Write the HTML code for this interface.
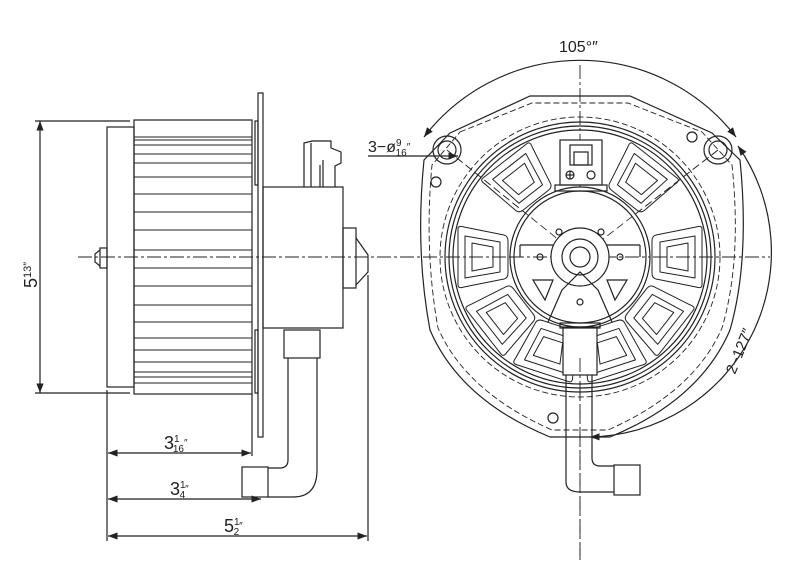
<!DOCTYPE html>
<html><head><meta charset="utf-8"><style>
html,body{margin:0;padding:0;background:#fff;}
svg{display:block}
text{font-family:"Liberation Sans",sans-serif;fill:#222}
</style></head><body>
<svg width="800" height="581" viewBox="0 0 800 581" xmlns="http://www.w3.org/2000/svg" fill="none" stroke="#222" stroke-width="1.2">
<defs>
<marker id="a" markerWidth="8" markerHeight="6" refX="8" refY="3" orient="auto-start-reverse"><path d="M0,0 L8,3 L0,6z" fill="#222" stroke="none"/></marker>
<g id="pk"><path d="M-28,-24 L28,-24 Q32,-24 30,-18 L22,22 Q21,26 16,26 L-16,26 Q-21,26 -22,22 L-30,-18 Q-32,-24 -28,-24Z"/><path d="M-21,-17 L21,-17 L15,18 L-15,18Z" stroke-linejoin="round"/><path d="M-14,-10 L14,-10 L10,11 L-10,11Z" stroke-linejoin="round"/></g>
</defs>
<!-- LEFT VIEW -->
<line x1="35" y1="121" x2="130" y2="121"/><line x1="35" y1="393" x2="130" y2="393"/>
<line x1="40" y1="121" x2="40" y2="393" marker-start="url(#a)" marker-end="url(#a)"/>
<text x="0" y="0" font-size="18" transform="translate(37,288) rotate(-90)" stroke="none">5<tspan font-size="11" dy="-6">13</tspan><tspan font-size="11">″</tspan></text>
<line x1="78" y1="257" x2="400" y2="257" stroke-dasharray="14,3,3,3" stroke-width="0.9"/>
<rect x="107" y="127" width="27" height="260"/>
<rect x="134" y="120" width="118" height="274"/>
<g stroke-width="1">
<line x1="134" y1="137" x2="252" y2="137"/><line x1="134" y1="140" x2="252" y2="140"/><line x1="134" y1="145" x2="252" y2="145"/>
<line x1="134" y1="154" x2="252" y2="154"/><line x1="134" y1="163" x2="252" y2="163"/><line x1="134" y1="177" x2="252" y2="177"/>
<line x1="134" y1="194" x2="252" y2="194"/><line x1="134" y1="212" x2="252" y2="212"/><line x1="134" y1="230" x2="252" y2="230"/>
<line x1="134" y1="250" x2="252" y2="250"/><line x1="134" y1="268" x2="252" y2="268"/><line x1="134" y1="286" x2="252" y2="286"/>
<line x1="134" y1="305" x2="252" y2="305"/><line x1="134" y1="322" x2="252" y2="322"/><line x1="134" y1="338" x2="252" y2="338"/>
<line x1="134" y1="350" x2="252" y2="350"/><line x1="134" y1="362" x2="252" y2="362"/><line x1="134" y1="372" x2="252" y2="372"/>
<line x1="134" y1="377" x2="252" y2="377"/><line x1="134" y1="383" x2="252" y2="383"/>
</g>
<rect x="100" y="248" width="7" height="20"/><path d="M100,250 L95,254 L95,262 L100,266"/>
<rect x="258" y="93" width="5" height="344"/>
<rect x="255" y="121" width="3" height="64"/><rect x="255" y="330" width="3" height="63"/>
<rect x="263" y="187" width="80" height="141"/>
<path d="M304,187 L304,143 L312,141 L331,141 L331,148 L341,152 L341,163 L335,166 L335,187"/>
<line x1="311" y1="143" x2="311" y2="187"/><line x1="320" y1="165" x2="320" y2="187"/><line x1="323" y1="160" x2="323" y2="187"/>
<rect x="343" y="228" width="13" height="60"/><path d="M356,238 L361,245 L368,255 L368,272 L356,285"/>
<rect x="284" y="330" width="36" height="28"/>
<path d="M288,358 L288,460 Q288,468 280,468 L268,468"/>
<path d="M317,358 L317,470 Q317,497 293,497 L268,497"/>
<rect x="242" y="467" width="26" height="30"/>
<line x1="107" y1="390" x2="107" y2="541"/><line x1="368" y1="275" x2="368" y2="541"/>
<line x1="252" y1="394" x2="252" y2="456"/>
<line x1="108" y1="453" x2="251" y2="453" marker-start="url(#a)" marker-end="url(#a)"/>
<line x1="108" y1="499" x2="261" y2="499" marker-start="url(#a)" marker-end="url(#a)"/>
<line x1="108" y1="536" x2="367" y2="536" marker-start="url(#a)" marker-end="url(#a)"/>
<text x="164" y="449" font-size="18" stroke="none">3<tspan font-size="10" dy="-7">1</tspan><tspan font-size="10" dx="-6" dy="10">16</tspan><tspan font-size="10" dy="-6">″</tspan></text>
<text x="170" y="495" font-size="18" stroke="none">3<tspan font-size="10" dy="-7">1</tspan><tspan font-size="10" dx="-6" dy="10">4</tspan><tspan font-size="10" dy="-6">″</tspan></text>
<text x="224" y="532" font-size="18" stroke="none">5<tspan font-size="10" dy="-7">1</tspan><tspan font-size="10" dx="-6" dy="10">2</tspan><tspan font-size="10" dy="-6">″</tspan></text>
<!-- RIGHT VIEW -->
<text x="559" y="52" font-size="16" stroke="none">105°″</text>
<path d="M424,137 A197,197 0 0 1 736,137" marker-start="url(#a)" marker-end="url(#a)"/>
<path d="M738,146 A185,185 0 0 1 590,437" marker-start="url(#a)" marker-end="url(#a)"/>
<text font-size="15" stroke="none" transform="translate(735,375) rotate(-68)">2−127″</text>
<text x="368" y="152" font-size="16" stroke="none">3−ø<tspan font-size="10" dy="-6">9</tspan><tspan font-size="10" dx="-6" dy="10">16</tspan><tspan font-size="10" dy="-6">″</tspan></text>
<line x1="368" y1="156" x2="458" y2="156" marker-end="url(#a)"/>
<line x1="580" y1="65" x2="580" y2="560" stroke-dasharray="14,3,3,3" stroke-width="0.9"/>
<line x1="400" y1="257" x2="770" y2="257" stroke-dasharray="14,3,3,3" stroke-width="0.9"/>
<line x1="447" y1="150" x2="580" y2="257" stroke-dasharray="8,4" stroke-width="0.8"/>
<line x1="718" y1="150" x2="580" y2="257" stroke-dasharray="8,4" stroke-width="0.8"/>
<path d="M450,133 L530,96 L630,96 L712,133 L740,160 Q750,260 730,330 Q700,400 610,437 L550,437 Q460,400 430,330 Q415,250 424,160 Z"/>
<path d="M460,132 L532,103 L628,103 L702,132 L732,165 Q742,260 722,328 Q694,392 608,430 L552,430 Q466,392 438,328 Q424,250 432,165 Z" stroke-dasharray="6,3" stroke-width="0.9"/>
<circle cx="447" cy="150" r="14"/><circle cx="447" cy="150" r="9"/>
<circle cx="718" cy="150" r="14"/><circle cx="718" cy="150" r="9"/>
<circle cx="436" cy="182" r="5"/><circle cx="692" cy="137" r="5"/><circle cx="553" cy="418" r="5"/>
<circle cx="580" cy="257" r="140" stroke-dasharray="6,3" stroke-width="0.9"/>
<circle cx="580" cy="257" r="135"/>
<circle cx="580" cy="257" r="131"/>
<circle cx="580" cy="257" r="127"/>
<g stroke-width="1">
<use href="#pk" transform="translate(580,257) rotate(0) translate(98,0) rotate(90)"/>
<use href="#pk" transform="translate(580,257) rotate(38) translate(98,0) rotate(90)"/>
<use href="#pk" transform="translate(580,257) rotate(72) translate(98,0) rotate(90)"/>
<use href="#pk" transform="translate(580,257) rotate(108) translate(98,0) rotate(90)"/>
<use href="#pk" transform="translate(580,257) rotate(142) translate(98,0) rotate(90)"/>
<use href="#pk" transform="translate(580,257) rotate(180) translate(98,0) rotate(90)"/>
<use href="#pk" transform="translate(580,257) rotate(-128) translate(98,0) rotate(90)"/>
<use href="#pk" transform="translate(580,257) rotate(-52) translate(98,0) rotate(90)"/>
</g>
<circle cx="580" cy="257" r="70" fill="#fff"/><circle cx="580" cy="257" r="66"/>
<line x1="447" y1="150" x2="580" y2="257" stroke-dasharray="8,4" stroke-width="0.8"/>
<line x1="718" y1="150" x2="580" y2="257" stroke-dasharray="8,4" stroke-width="0.8"/>
<line x1="510" y1="257" x2="650" y2="257" stroke-dasharray="14,3,3,3" stroke-width="0.9"/>
<path d="M520,245 L640,245 M520,245 L520,257 M640,245 L640,257"/>
<circle cx="580" cy="257" r="29" fill="#fff"/><circle cx="580" cy="257" r="18"/><circle cx="580" cy="257" r="10"/>
<path d="M562,290 L580,272 L598,290 L612,322 M562,290 L548,322"/>
<path d="M533,280 L553,280 L545,300 Z"/><path d="M627,280 L607,280 L615,300 Z"/>
<circle cx="540" cy="257" r="3"/><circle cx="620" cy="257" r="3"/><circle cx="559" cy="232" r="3"/><circle cx="601" cy="232" r="3"/><circle cx="580" cy="302" r="3"/>
<rect x="560" y="140" width="42" height="45" fill="#fff"/>
<rect x="570" y="145" width="22" height="20"/><rect x="574" y="152" width="14" height="13"/>
<circle cx="570" cy="175" r="4"/><circle cx="591" cy="175" r="4"/>
<line x1="566" y1="175" x2="574" y2="175"/><line x1="570" y1="171" x2="570" y2="179"/>
<rect x="555" y="185" width="52" height="6"/>
<rect x="563" y="327" width="34" height="48" fill="#fff"/>
<rect x="560" y="323" width="40" height="5"/>
<path d="M566,375 L566,482 Q566,492 580,492 L614,492"/>
<path d="M592,375 L592,458 Q592,466 600,466 L614,466"/>
<rect x="614" y="465" width="26" height="30"/>
<line x1="580" y1="358" x2="580" y2="560" stroke-dasharray="14,3,3,3" stroke-width="0.9"/>
</svg>
</body></html>
